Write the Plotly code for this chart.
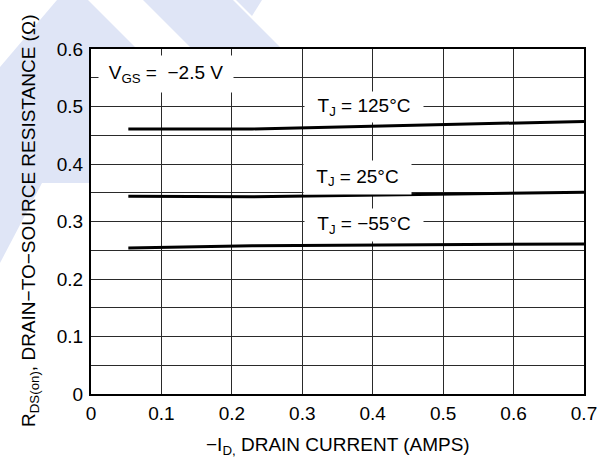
import plotly.graph_objects as go

# ---- data ----
x_125 = [0.053, 0.229, 0.70]
r_125 = [0.461, 0.461, 0.474]

x_25 = [0.053, 0.115, 0.229, 0.70]
r_25 = [0.344, 0.344, 0.343, 0.351]

x_m55 = [0.053, 0.229, 0.70]
r_m55 = [0.254, 0.258, 0.261]

x_ticks = [0, 0.1, 0.2, 0.3, 0.4, 0.5, 0.6, 0.7]
x_ticktext = ["0", "0.1", "0.2", "0.3", "0.4", "0.5", "0.6", "0.7"]
y_ticks = [0, 0.1, 0.2, 0.3, 0.4, 0.5, 0.6]
y_ticktext = ["0", "0.1", "0.2", "0.3", "0.4", "0.5", "0.6"]

FONT = "Liberation Sans, Arial, Helvetica, sans-serif"
W, H = 603, 459
L, R, T, B = 91, 19, 49, 65
PW, PH = W - L - R, H - T - B


def px(xp, yp):
    """pixel -> paper coordinates (decoration only)"""
    return (xp - L) / PW, (H - B - yp) / PH


def poly(points):
    segs = []
    for i, (a, b) in enumerate(points):
        u, v = px(a, b)
        segs.append(("M" if i == 0 else "L") + f"{u:.4f},{v:.4f}")
    return " ".join(segs) + " Z"


WM = "#dfe5f6"
shapes = []
for pts in [
    [(57, 0), (88, 0), (230, 142), (0, 142), (0, 67)],
    [(0, 142), (95, 142), (95, 183), (0, 183)],
    [(0, 183), (42, 183), (0, 263)],
    [(143, 0), (233, 0), (300, 67), (210, 67)],
    [(236, 0), (262, 0), (252, 16)],
]:
    shapes.append(dict(type="path", path=poly(pts), xref="paper", yref="paper",
                       fillcolor=WM, line=dict(width=0), layer="below"))
# white plot area covering the watermark
shapes.append(dict(type="rect", xref="paper", yref="paper", x0=0, x1=1, y0=0, y1=1,
                   fillcolor="white", line=dict(width=0), layer="below"))

fig = go.Figure()
for xs, ys in [(x_125, r_125), (x_25, r_25), (x_m55, r_m55)]:
    fig.add_trace(go.Scatter(x=xs, y=ys, mode="lines",
                             line=dict(color="black", width=3), showlegend=False,
                             hoverinfo="skip"))

ann_font = dict(family=FONT, size=19, color="black")
annotations = [
    dict(x=0.107, y=0.556, text="V<sub>GS</sub> =  \u22122.5 V", width=134, height=36),
    dict(x=0.387, y=0.499, text="T<sub>J</sub> = 125\u00b0C", width=118, height=30),
    dict(x=0.379, y=0.376, text="T<sub>J</sub> = 25\u00b0C", width=107, height=33),
    dict(x=0.387, y=0.294, text="T<sub>J</sub> = \u221255\u00b0C", width=118, height=32),
]
for a in annotations:
    a.update(xref="x", yref="y", showarrow=False, bgcolor="white", font=ann_font,
             align="center", valign="middle", borderpad=0)

# axis titles
annotations.append(dict(text="\u2212I<sub>D,</sub> DRAIN CURRENT (AMPS)", xref="paper", yref="paper",
                        x=0.5, y=px(0, 446)[1], xanchor="center", yanchor="middle",
                        showarrow=False, font=ann_font))
annotations.append(dict(text="R<sub>DS(on)</sub>, DRAIN\u2212TO\u2212SOURCE RESISTANCE (\u03a9)",
                        xref="paper", yref="paper", x=px(30, 0)[0], y=px(0, 221)[1],
                        xanchor="center", yanchor="middle", textangle=-90,
                        showarrow=False, font=ann_font))

axis_common = dict(showline=True, linecolor="black", linewidth=2, mirror=True,
                   showgrid=True, gridcolor="#2a2a2a", gridwidth=1, zeroline=False,
                   ticks="", automargin=False,
                   tickfont=dict(family=FONT, size=19, color="black"))

fig.update_layout(
    width=W, height=H,
    margin=dict(l=L, r=R, t=T, b=B, pad=0),
    paper_bgcolor="white", plot_bgcolor="white",
    shapes=shapes, annotations=annotations,
    xaxis=dict(range=[0, 0.7], tickvals=x_ticks, ticktext=x_ticktext,
               ticklabelstandoff=1, **axis_common),
    yaxis=dict(range=[0, 0.6], tickvals=y_ticks, ticktext=y_ticktext,
               ticklabelstandoff=2,
               minor=dict(dtick=0.05, tick0=0, showgrid=True, gridcolor="#2a2a2a", gridwidth=1),
               **axis_common),
)

fig.write_html("out.html", config={"displayModeBar": False},
               post_script="document.body.style.margin='0';document.body.style.overflow='hidden';")
